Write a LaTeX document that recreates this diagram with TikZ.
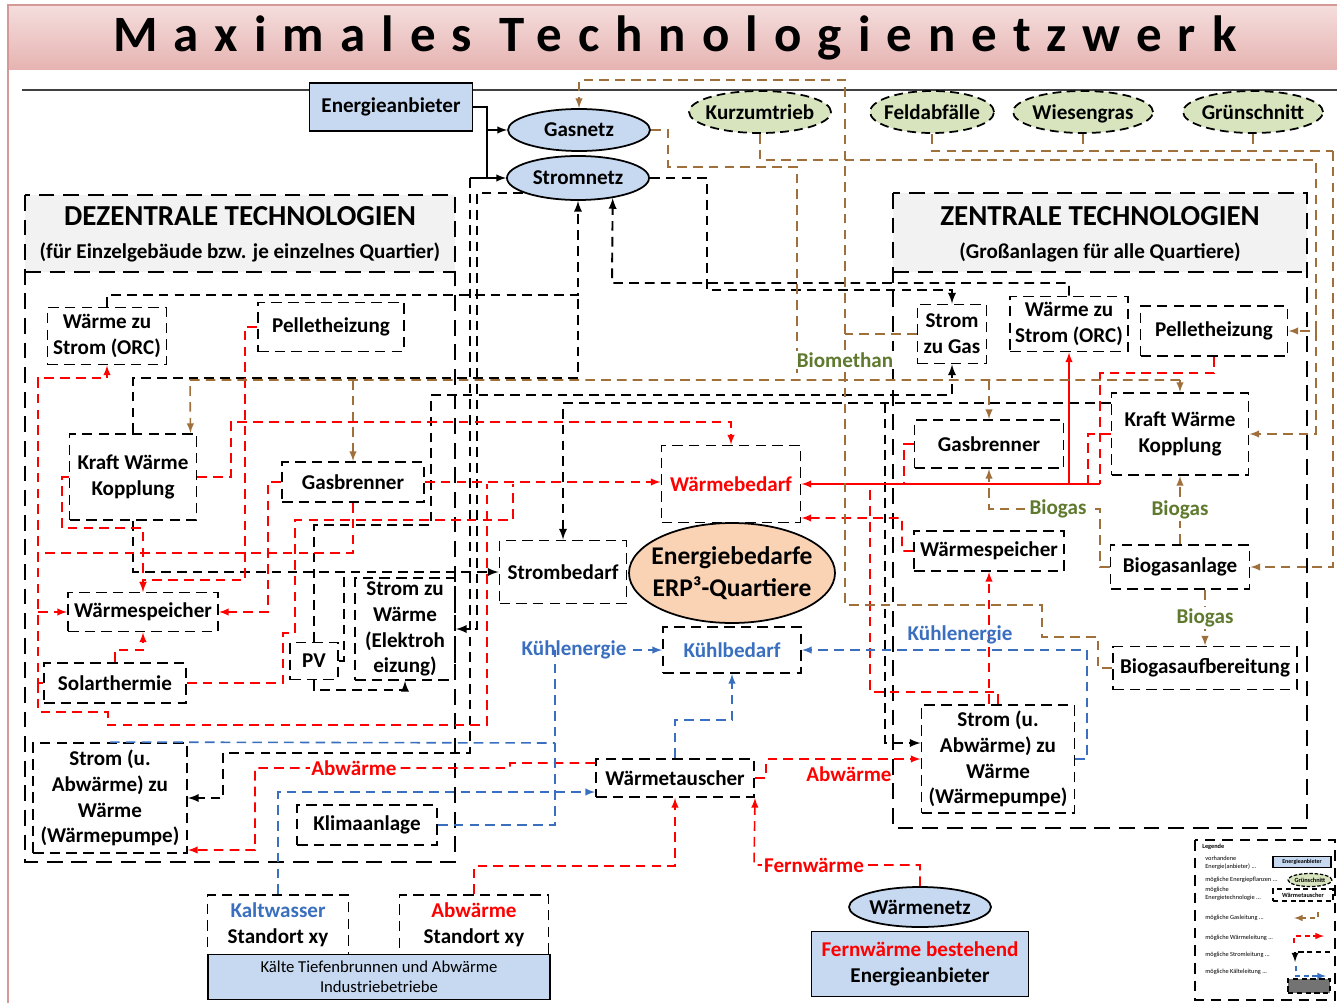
\documentclass[tikz,border=0pt]{standalone}
\usepackage{fontspec}
\setmainfont{Carlito}
\newfontfamily\titlefont[LetterSpace=31.5]{Carlito}
\usetikzlibrary{arrows, shapes.geometric}
\definecolor{gasbraun}{HTML}{A0703C}
\definecolor{kaelteblau}{HTML}{3A6FBF}
\definecolor{waermerot}{HTML}{FF0000}
\definecolor{olivtext}{HTML}{5F7A2E}
\definecolor{netzblau}{HTML}{C6D9F1}
\definecolor{pflanzgruen}{HTML}{D7E4BD}
\definecolor{bedarfpfirsich}{HTML}{FAD2B4}
\definecolor{kopfgrau}{HTML}{F2F2F2}
\definecolor{titelhell}{HTML}{F4DEDD}
\definecolor{titeldunkel}{HTML}{E6B3B1}
\definecolor{titelrand}{HTML}{D49896}

\begin{document}
\begin{tikzpicture}[x=0.02cm, y=-0.02cm, >=latex,
  font=\fontsize{12}{14.7}\selectfont\bfseries,
  sz/.style 2 args={minimum width=#1*0.02cm, minimum height=#2*0.02cm},
  tech/.style={draw, line width=1.1pt, dash pattern=on 6pt off 3.5pt, align=center, inner sep=0pt},
  netz/.style={draw, line width=1pt, fill=netzblau, align=center, inner sep=0pt},
  netzoval/.style={ellipse, draw, line width=1pt, fill=netzblau, inner xsep=-3pt, inner ysep=0pt},
  pflanze/.style={ellipse, draw, line width=1pt, dash pattern=on 5pt off 3pt, fill=pflanzgruen, inner xsep=-3pt, inner ysep=0pt, text height=8.6pt, text depth=0pt},
  rahmen/.style={draw, line width=1.1pt, dash pattern=on 9pt off 5pt},
  strom/.style={draw=black, line width=1.1pt, dash pattern=on 5.5pt off 3.5pt},
  waerme/.style={draw=waermerot, line width=0.9pt, dash pattern=on 5.5pt off 3.5pt},
  gas/.style={draw=gasbraun, line width=0.9pt, dash pattern=on 5.5pt off 3.5pt},
  kaelte/.style={draw=kaelteblau, line width=0.9pt, dash pattern=on 5.5pt off 3.5pt},
  energie/.style={draw=black, line width=0.9pt},
  gruenlbl/.style={text=olivtext, fill=white, inner sep=1pt},
  leg/.style={font=\fontsize{3.6}{4.4}\selectfont, inner sep=0pt, align=left}]
\useasboundingbox (0,0) rectangle (1337,1003);

% Titel
\shade[top color=titelhell, bottom color=titeldunkel] (8,5) rectangle (1337,70);
\draw[titelrand, line width=0.8pt] (1337,5) -- (8,5) -- (8,1003);
\node[font=\titlefont\bfseries\fontsize{29}{34}\selectfont] (titel) at (675,38) {Maximales Technologienetzwerk};
\draw[black!75, line width=0.6pt] (22,90) -- (1337,90);

% Bereiche
\fill[kopfgrau] (25,195) rectangle (455,272);
\draw[rahmen] (25,195) rectangle (455,862);
\draw[rahmen] (25,272) -- (455,272);
\node[font=\fontsize{16.5}{20}\selectfont\bfseries] (dezKopf) at (240,216) {DEZENTRALE TECHNOLOGIEN};
\node (dezSub) at (240,252) {(für Einzelgebäude bzw. je einzelnes Quartier)};
\fill[kopfgrau] (893,193) rectangle (1307,272);
\draw[rahmen] (893,193) rectangle (1307,828);
\draw[rahmen] (893,272) -- (1307,272);
\node[font=\fontsize{16.5}{20}\selectfont\bfseries] (zenKopf) at (1100,216) {ZENTRALE TECHNOLOGIEN};
\node (zenSub) at (1100,252) {(Großanlagen für alle Quartiere)};

% Netze und Pflanzen
\node[netz, sz={163}{48}] (enp) at (391,107) {Energieanbieter};
\node[netzoval, sz={142}{42}] (gasnetz) at (579,130) {Gasnetz};
\node[netzoval, sz={142}{44}] (stromnetz) at (578,178) {Stromnetz};
\node[pflanze, sz={142}{42}] (kurz) at (760,112) {Kurzumtrieb};
\node[pflanze, sz={124}{42}] (feld) at (932,112) {Feldabfälle};
\node[pflanze, sz={140}{42}] (wiese) at (1083,112) {Wiesengras};
\node[pflanze, sz={140}{42}] (gruen) at (1253,112) {Grünschnitt};

% dezentrale Technologien
\node[tech, sz={119}{57}] (orcL) at (107,336) {Wärme zu\\Strom (ORC)};
\node[tech, sz={146}{49}] (pelletL) at (331,327) {Pelletheizung};
\node[tech, sz={127}{86}] (kwkL) at (133,477) {Kraft Wärme\\Kopplung};
\node[tech, sz={142}{40}] (gasbrL) at (353,482) {Gasbrenner};
\node[tech, sz={150}{39}] (speicherL) at (143,612) {Wärmespeicher};
\node[tech, sz={142}{40}] (solar) at (115,683) {Solarthermie};
\node[tech, sz={48}{37}] (pv) at (314,661) {PV};
\node[tech, sz={100}{102}] (szw) at (405,629) {Strom zu\\Wärme\\(Elektroh\\eizung)};
\node[tech, sz={154}{110}] (wpL) at (110,798) {Strom (u.\\Abwärme) zu\\Wärme\\(Wärmepumpe)};
\node[tech, sz={140}{40}] (klima) at (367,825) {Klimaanlage};

% Bedarfe
\node[tech, sz={127}{63}] (strombed) at (563,572) {Strombedarf};
\node[tech, sz={139}{77}, text=waermerot] (waermebed) at (731,484) {Wärmebedarf};
\node[ellipse, draw, line width=1pt, fill=bedarfpfirsich, sz={206}{100}, inner xsep=-6pt, inner ysep=0pt,
  align=center, font=\fontsize{14.5}{18}\selectfont\bfseries] (bedarf) at (732,573) {Energiebedarfe\\ERP³-Quartiere};
\node[tech, sz={138}{46}, text=kaelteblau] (kuehlbed) at (732,650) {Kühlbedarf};
\node[tech, sz={158}{38}] (wt) at (675,778) {Wärmetauscher};

% zentrale Technologien
\node[tech, sz={69}{59}] (s2g) at (952,334) {Strom\\zu Gas};
\node[tech, sz={118}{55}] (orcR) at (1069,324) {Wärme zu\\Strom (ORC)};
\node[tech, sz={147}{50}] (pelletR) at (1214,331) {Pelletheizung};
\node[tech, sz={149}{48}] (gasbrR) at (989,444) {Gasbrenner};
\node[tech, sz={137}{82}] (kwkR) at (1180,434) {Kraft Wärme\\Kopplung};
\node[tech, sz={150}{40}] (speicherR) at (989,551) {Wärmespeicher};
\node[tech, sz={139}{44}] (biogasanl) at (1180,567) {Biogasanlage};
\node[tech, sz={184}{43}] (biogasauf) at (1205,668) {Biogasaufbereitung};
\node[tech, sz={153}{108}] (wpR) at (998,759) {Strom (u.\\Abwärme) zu\\Wärme\\(Wärmepumpe)};

% Quellen unten
\node[tech, sz={141}{60}] (kalt) at (278,925) {\textcolor{kaelteblau}{Kaltwasser}\\Standort xy};
\node[tech, sz={149}{60}] (abw) at (474,925) {\textcolor{waermerot}{Abwärme}\\Standort xy};
\node[netz, sz={342}{45}, font=\fontsize{9.5}{11.3}\selectfont] (industrie) at (379,977) {Kälte Tiefenbrunnen und Abwärme\\Industriebetriebe};
\node[netzoval, sz={142}{40}] (wnetz) at (920,907) {Wärmenetz};
\node[netz, sz={217}{65}] (fernw) at (920,964) {\textcolor{waermerot}{Fernwärme bestehend}\\Energieanbieter};

% Stromleitungen
\draw[energie,->] (enp.east) -| (487,130) -- (gasnetz.west);
\draw[energie,->] (487,130) |- (stromnetz.west);
\draw[energie] (470,178) -- (487,178);
\draw[strom,->] (orcL.north) |- (578,295) -- (stromnetz.south);
\draw[strom] (kwkL.north) |- (578,378) -- (578,295);
\draw[strom,->] (stromnetz.east) -| (707,290) -| (s2g.north);
\draw[strom,->] (orcR.north) |- (612,283) -- (stromnetz.-30);
\draw[strom,->] ([yshift=0.62cm]kwkR.west) -| (strombed.north);
\draw[strom,->] (pv.north) |- (431,525) -- (431,395) -| (s2g.south);
\draw[strom,->] (kwkL.south) |- (strombed.west);
\draw[strom] (pv.east) -| (344,572);
\draw[strom,->] (pv.south) |- (405,690) -- (szw.south);
\draw[strom,->] (470,178) -- (470,753) -| (223,798) -- (wpL.east);
\draw[strom,->] (stromnetz.195) -| (477,629) -- (szw.east);
\draw[strom,->] (885,403) |- ([yshift=0.32cm]wpR.west);

% Waermeleitungen
\draw[waerme,->] (kwkL.east) -| (231,422) -| (waermebed.north);
\draw[waerme,->] (gasbrL.east) -- (gasbrL.east -| waermebed.west);
\draw[waerme,->] (gasbrL.west) -| (268,612) -- (speicherL.east);
\draw[waerme,->] (solar.west) -| (38,378) -| (orcL.south);
\draw[waerme,->] (38,612) -- (speicherL.west);
\draw[waerme] (gasbrL.south) |- (38,553);
\draw[waerme] (38,683) |- (108,712) |- (487,725) -- (487,484);
\draw[waerme,->] (solar.north) |- (143,650) -- (speicherL.south);
\draw[waerme] (solar.east) -| (283,633) -| (295,520) -| (513,484);
\draw[waerme,->] (kwkL.west) -| (62,528) -| (speicherL.north);
\draw[waerme,->] (pelletL.west) -| (245,580) -| (speicherL.north);
\draw[waerme,solid,->] (1100,484) -- (waermebed.east);
\draw[waerme] (pelletR.south) |- (1100,373) -- (1100,484);
\draw[waerme] (kwkR.west) -| (1088,484);
\draw[waerme] (gasbrR.west) -| (904,484);
\draw[waerme,solid,->] (1069,484) -- (orcR.south);
\draw[waerme,->] (speicherR.west) -| (902,518) -- ([yshift=-0.68cm]waermebed.east);
\draw[waerme,->] (speicherR.south |- wpR.north) -- (speicherR.south);
\draw[waerme] (wpR.north) |- (870,692) -- (870,484);
\draw[waerme,->] ([yshift=0.3cm]wt.west) -| (510,768) -| (255,850) -- ([yshift=-1.04cm]wpL.east);
\node[fill=white, text=waermerot, inner sep=1pt] (lblAbwL) at (354,768) {Abwärme};
\draw[waerme,->] (wt.east) -| (766,759) -- (wpR.west);
\node[text=waermerot] (lblAbwR) at (849,774) {Abwärme};
\draw[waerme,->] (abw.north) |- (675,866) -- (wt.south);
\draw[waerme,->] (wnetz.north) |- (754,865) -- (wt.south east);
\node[fill=white, text=waermerot, inner sep=1pt] (lblFern) at (814,865) {Fernwärme};

% Kaelteleitungen
\draw[kaelte,->] (kalt.north) |- ([yshift=-0.28cm]wt.west);
\draw[kaelte] (klima.east) -| (555,650);
\node[text=kaelteblau] (lblKuehlL) at (574,650) {Kühlenergie};
\draw[kaelte,->] (lblKuehlL.east) -- (kuehlbed.west);
\draw[kaelte] (wpL.north) -- (555,743);
\draw[kaelte,->] (wt.north) |- (732,720) -- (kuehlbed.south);
\draw[kaelte,->] (wpR.east) -| (1087,650) -- (kuehlbed.east);
\node[text=kaelteblau] (lblKuehlR) at (960,635) {Kühlenergie};

% Gasleitungen
\draw[gas] (gasnetz.east) -| (668,167) -| (797,380);
\draw[gas,->] (1180,380) -- (190,380) -- ([xshift=-0.14cm]kwkL.north east);
\draw[gas,->] (353,380) -- (gasbrL.north);
\draw[gas,->] (989,380) -- (gasbrR.north);
\draw[gas,->] (1180,380) -- (kwkR.north);
\draw[gas,->] (biogasanl.west) -| (1100,509) -| (gasbrR.south);
\node[gruenlbl] (lblBiogas1) at (1058,509) {Biogas};
\draw[gas,->] (biogasanl.north) -- node[gruenlbl] (lblBiogas2) {Biogas} (kwkR.south);
\draw[gas,->] (biogasauf.north |- biogasanl.south) -- node[gruenlbl] (lblBiogas3) {Biogas} (biogasauf.north);
\draw[gas,->] (kurz.south) |- (1316,160) |- (pelletR.east);
\draw[gas,->] (1316,331) |- (kwkR.east);
\draw[gas] (feld.south) |- (1333,151);
\draw[gas] (wiese.south) -- (1083,151);
\draw[gas] (gruen.south) -- (1253,151);
\draw[gas,->] (1333,151) |- (biogasanl.east);
\draw[gas,->] (biogasauf.west) -| (1098,637) -| (1042,605) -| (845,80) -| (gasnetz.north);
\draw[gas] (s2g.west) -- (845,334);
\node[gruenlbl] (lblMethan) at (845,360) {Biomethan};

% Legende
\draw[rahmen, line width=0.8pt, dash pattern=on 6pt off 4pt] (1195,840) rectangle (1335,1000);
\node[leg, anchor=west, font=\fontsize{3.6}{4.4}\selectfont\bfseries] (legTitel) at (1202,847) {Legende};
\node[leg, anchor=west] (legVorh) at (1205,863) {vorhandene\\Energie(anbieter) ...};
\node[netz, sz={58}{11}, line width=0.6pt, font=\fontsize{3.4}{4}\selectfont\bfseries] (legNetz) at (1302,862) {Energieanbieter};
\node[leg, anchor=west] (legPfl) at (1205,880) {mögliche Energiepflanzen ...};
\node[pflanze, sz={44}{13}, line width=0.7pt, dash pattern=on 2pt off 1pt, text height=2.6pt, font=\fontsize{3.6}{4}\selectfont\bfseries] (legGruen) at (1310,880) {Grünschnitt};
\node[leg, anchor=west] (legTech) at (1205,894) {mögliche\\Energietechnologie ...};
\node[tech, sz={60}{12}, line width=0.7pt, dash pattern=on 3pt off 2pt, font=\fontsize{3.6}{4}\selectfont\bfseries] (legWt) at (1303,895) {Wärmetauscher};
\node[leg, anchor=west] (legGas) at (1205,918) {mögliche Gasleitung ...};
\node[leg, anchor=west] (legWaerme) at (1205,938) {mögliche Wärmeleitung ...};
\node[leg, anchor=west] (legStrom) at (1205,955) {mögliche Stromleitung ...};
\node[leg, anchor=west] (legKaelte) at (1205,972) {mögliche Kälteleitung ...};
\coordinate (legGasA) at (1318,912);
\coordinate (legGasB) at (1294,918);
\draw[gas, line width=0.7pt, dash pattern=on 3pt off 2pt, ->] (legGasA) |- (legGasB);
\coordinate (legWaermeA) at (1294,943);
\coordinate (legWaermeB) at (1324,936);
\draw[waerme, line width=0.7pt, dash pattern=on 3pt off 2pt, ->] (legWaermeA) |- (legWaermeB);
\coordinate (legStromA) at (1330,952);
\coordinate (legStromB) at (1295,962);
\draw[strom, line width=0.8pt, dash pattern=on 3pt off 2pt, ->] (legStromA) -| (legStromB);
\coordinate (legKaelteA) at (1296,966);
\coordinate (legKaelteB) at (1326,976);
\draw[kaelte, line width=0.7pt, dash pattern=on 3pt off 2pt, ->] (legKaelteA) |- (legKaelteB);
\node[draw, line width=0.7pt, dash pattern=on 3pt off 2pt, fill=black!55, sz={42}{14}, inner sep=0pt] (legMuster) at (1309,986) {};
\end{tikzpicture}
\end{document}
